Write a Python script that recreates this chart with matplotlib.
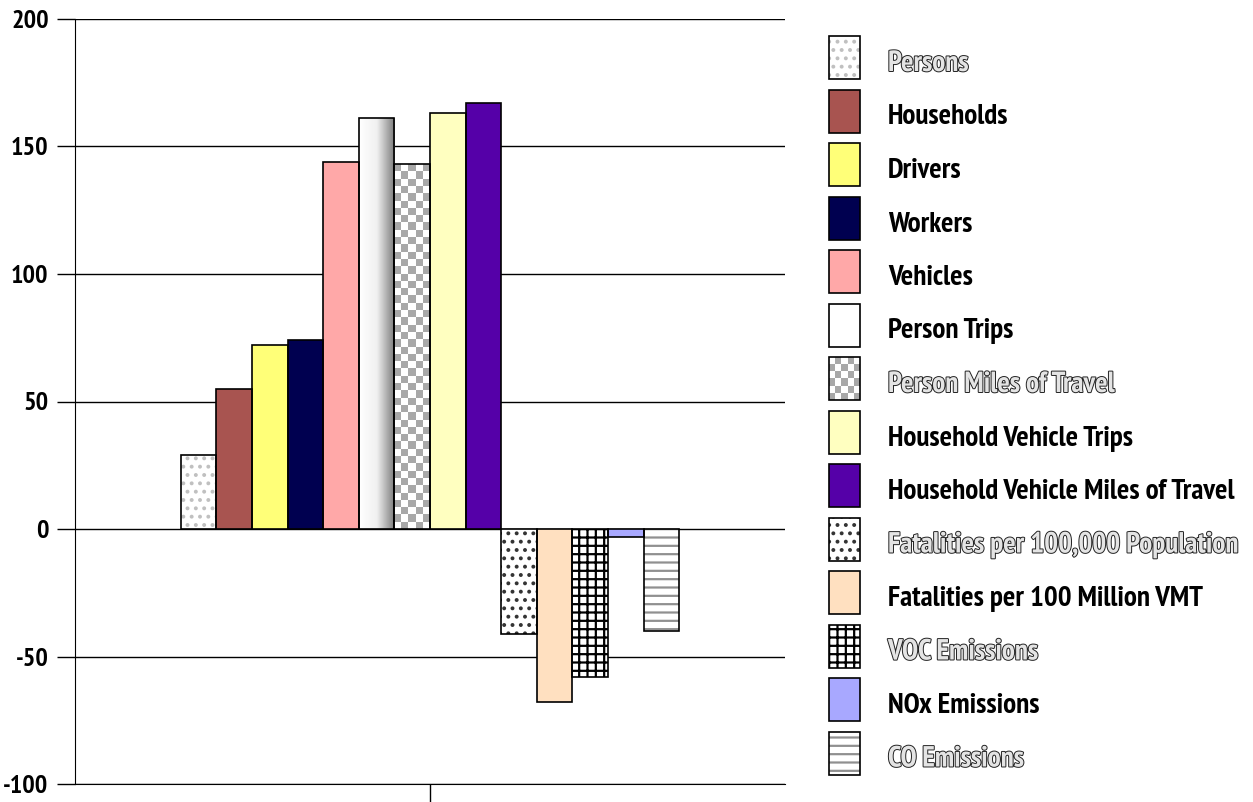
import matplotlib
matplotlib.use("Agg")
import matplotlib.pyplot as plt
import matplotlib.patheffects as pe
import numpy as np
from matplotlib import font_manager as fm
from matplotlib.colors import LinearSegmentedColormap, ListedColormap
from matplotlib.patches import Rectangle

labels = [
    "Persons", "Households", "Drivers", "Workers", "Vehicles", "Person Trips",
    "Person Miles of Travel", "Household Vehicle Trips",
    "Household Vehicle Miles of Travel", "Fatalities per 100,000 Population",
    "Fatalities per 100 Million VMT", "VOC Emissions", "NOx Emissions", "CO Emissions",
]
values = [29, 55, 72, 74, 144, 161, 143, 163, 167, -41, -68, -58, -3, -40]
y_ticks = [-100, -50, 0, 50, 100, 150, 200]

# (facecolor, hatch, hatch colour, special fill, hollow legend text)
styles = [
    ("white", "..", "#c0c0c0", None, True),
    ("#a85450", None, None, None, False),
    ("#ffff78", None, None, None, False),
    ("#000050", None, None, None, False),
    ("#ffa8a8", None, None, None, False),
    ("white", None, None, "gradient", False),
    ("white", None, None, "checker", True),
    ("#ffffc0", None, None, None, False),
    ("#5500a8", None, None, None, False),
    ("white", "..", "#333333", None, True),
    ("#ffe0c0", None, None, None, False),
    ("white", "++", "black", None, True),
    ("#a8a8ff", None, None, None, False),
    ("white", "--", "#909090", None, True),
]


def _weight(f) -> int:
    w = f.weight
    return w if isinstance(w, int) else fm.weight_dict.get(w, 400)


def _narrow_family() -> tuple[list[str], str]:
    narrow = [f for f in fm.fontManager.ttflist
              if "Narrow" in f.name or "Condensed" in f.name
              or f.stretch in ("condensed", "semi-condensed", "extra-condensed")]
    bold = [f for f in narrow if _weight(f) >= 600]
    for f in sorted(bold, key=lambda f: ("Narrow" not in f.name, f.name)):
        stretch = f.stretch if isinstance(f.stretch, str) else "normal"
        return [f.name, "DejaVu Sans"], stretch
    return ["Liberation Sans", "DejaVu Sans"], "normal"


FONT, STRETCH = _narrow_family()
plt.rcParams["font.family"] = FONT
plt.rcParams["font.stretch"] = STRETCH
plt.rcParams["font.weight"] = "bold"
plt.rcParams["hatch.linewidth"] = 1.6

W, H = 1253, 802
fig = plt.figure(figsize=(W / 100, H / 100), dpi=100)
renderer = fig.canvas.get_renderer()


def _fit_size(text: str, target_px: float, base: float = 20) -> float:
    t = fig.text(0, 0, text, fontsize=base, fontweight="bold")
    width = t.get_window_extent(renderer).width
    t.remove()
    return base * target_px / width


legend_size = min(21, _fit_size("Household Vehicle Miles of Travel", 360))
tick_size = legend_size * 0.9

ax = fig.add_axes([75 / W, 18 / H, 710 / W, 765 / H])

n = len(values)
bar_w = 35.6 / 710
x = (np.arange(n) - (n - 1) / 2) * bar_w
checker_cmap = ListedColormap(["white", "#a8a8a8"])
grad_cmap = LinearSegmentedColormap.from_list("g", ["white", "#f0f0f0", "#7c7c7c"])

for xi, v, (fc, hatch, hc, special, _) in zip(x, values, styles):
    bar = ax.bar(xi, v, width=bar_w, color=fc, edgecolor="none", zorder=2)[0]
    if hatch:
        ax.bar(xi, v, width=bar_w, color="none", edgecolor=hc, hatch=hatch,
               linewidth=0, zorder=3)
    if special == "gradient":
        img = np.linspace(0, 1, 64).reshape(1, -1)
        im = ax.imshow(img, extent=(xi - bar_w / 2, xi + bar_w / 2, 0, v),
                       cmap=grad_cmap, aspect="auto", zorder=3, interpolation="bilinear")
        im.set_clip_path(bar)
    if special == "checker":
        ny = int(abs(v) * 2.55 / 7.2)
        img = np.indices((ny, 5)).sum(axis=0) % 2
        im = ax.imshow(img, extent=(xi - bar_w / 2, xi + bar_w / 2, v, 0),
                       cmap=checker_cmap, aspect="auto", zorder=3, interpolation="nearest")
        im.set_clip_path(bar)
    ax.bar(xi, v, width=bar_w, color="none", edgecolor="black", linewidth=1.2, zorder=4)

ax.set_xlim(-0.5, 0.5)
ax.set_ylim(-100, 200)
ax.set_yticks(y_ticks)
ax.set_yticklabels([str(t) for t in y_ticks])
ax.tick_params(axis="y", direction="out", length=13, width=1, pad=6, labelsize=tick_size)
for lbl in ax.get_yticklabels():
    lbl.set_fontweight("bold")
ax.set_xticks([0])
ax.set_xticklabels([""])
ax.tick_params(axis="x", direction="out", length=16, width=1)
ax.yaxis.grid(True, color="black", linewidth=1)
ax.set_axisbelow(True)
for side in ("top", "right"):
    ax.spines[side].set_visible(False)

# legend drawn in a pixel-space overlay
lax = fig.add_axes([0, 0, 1, 1])
lax.axis("off")
lax.patch.set_visible(False)
for i, (label, (fc, hatch, hc, special, hollow)) in enumerate(zip(labels, styles)):
    top = 36 + 53.5 * i
    lax.add_patch(Rectangle((829, top), 31, 43, facecolor=fc, edgecolor="none", zorder=1))
    if hatch:
        lax.add_patch(Rectangle((829, top), 31, 43, facecolor="none", edgecolor=hc,
                                hatch=hatch, linewidth=0, zorder=2))
    if special == "checker":
        img = np.indices((6, 5)).sum(axis=0) % 2
        lax.imshow(img, extent=(829, 860, top + 43, top), cmap=checker_cmap,
                   aspect="auto", interpolation="nearest", zorder=2)
    lax.add_patch(Rectangle((829, top), 31, 43, facecolor="none", edgecolor="black",
                            linewidth=1.2, zorder=3))
    t = lax.text(888, top + 28, label, fontsize=legend_size, fontweight="bold",
                 va="center", ha="left", color="#e4e4e4" if hollow else "black")
    if hollow:
        t.set_path_effects([pe.Stroke(linewidth=1.4, foreground="#222222"), pe.Normal()])
lax.set_xlim(0, W)
lax.set_ylim(H, 0)

fig.savefig("out.png", dpi=100)
